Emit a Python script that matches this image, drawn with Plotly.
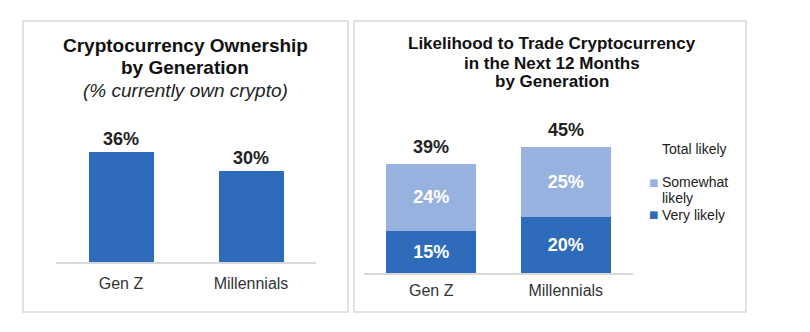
import plotly.graph_objects as go

# ---- data ----
generations = ["Gen Z", "Millennials"]
own_crypto = [36, 30]
very_likely = [15, 20]
somewhat_likely = [24, 25]
total_likely = [39, 45]

DARK = "#2E6BBA"
LIGHT = "#97B2DE"
GRID = "#D9D9D9"
FONT = "Arial, Liberation Sans, sans-serif"

W, H = 810, 332
def px(x):
    return x / W
def py(y):
    return 1 - y / H

fig = go.Figure()

# Left chart
fig.add_trace(go.Bar(
    x=generations, y=own_crypto, xaxis="x", yaxis="y",
    marker=dict(color=DARK, line=dict(width=0)), width=0.5,
    texttemplate="<b>%{y}%</b>", textposition="outside",
    textfont=dict(family=FONT, size=18, color="#222222"),
    cliponaxis=False, showlegend=False, hoverinfo="skip"))

# Right chart (stacked)
fig.add_trace(go.Bar(
    x=generations, y=very_likely, xaxis="x2", yaxis="y2", name="Very likely",
    marker=dict(color=DARK, line=dict(width=0)), width=0.67,
    texttemplate="<b>%{y}%</b>", textposition="inside",
    insidetextanchor="middle",
    textfont=dict(family=FONT, size=18, color="white"),
    showlegend=False, hoverinfo="skip"))
fig.add_trace(go.Bar(
    x=generations, y=somewhat_likely, xaxis="x2", yaxis="y2", name="Somewhat likely",
    marker=dict(color=LIGHT, line=dict(width=0)), width=0.67,
    texttemplate="<b>%{y}%</b>", textposition="inside",
    insidetextanchor="middle",
    textfont=dict(family=FONT, size=18, color="white"),
    showlegend=False, hoverinfo="skip"))

axis_common = dict(showgrid=False, zeroline=False, ticks="",
                   tickfont=dict(family=FONT, size=16, color="#333333"),
                   fixedrange=True)

fig.update_layout(
    width=W, height=H, margin=dict(l=0, r=0, t=0, b=0),
    paper_bgcolor="white", plot_bgcolor="white",
    barmode="stack",
    font=dict(family=FONT),
    xaxis=dict(domain=[px(56), px(316)], anchor="y", showline=True,
               linecolor=GRID, linewidth=1.5, ticklabelstandoff=6, **axis_common),
    yaxis=dict(domain=[py(262), py(100)], anchor="x", range=[0, 162 / 3.05],
               visible=False, **axis_common),
    xaxis2=dict(domain=[px(364), px(633)], anchor="y2", showline=True,
                linecolor=GRID, linewidth=1.5, ticklabelstandoff=2, **axis_common),
    yaxis2=dict(domain=[py(273), py(110)], anchor="x2", range=[0, 163 / 2.8],
                visible=False, **axis_common),
    showlegend=False,
)

shapes = [
    dict(type="rect", xref="paper", yref="paper", x0=px(23), x1=px(348),
         y0=py(312), y1=py(21), line=dict(color=GRID, width=1.5)),
    dict(type="rect", xref="paper", yref="paper", x0=px(354), x1=px(746),
         y0=py(312), y1=py(21), line=dict(color=GRID, width=1.5)),
]
fig.update_layout(shapes=shapes)

ann = []
# Left titles
ann.append(dict(text="<b>Cryptocurrency Ownership</b>", x=px(185), y=py(45),
                font=dict(size=19, color="#111111")))
ann.append(dict(text="<b>by Generation</b>", x=px(185), y=py(67),
                font=dict(size=19, color="#111111")))
ann.append(dict(text="<i>(% currently own crypto)</i>", x=px(185), y=py(90),
                font=dict(size=19, color="#222222")))
# Right titles
ann.append(dict(text="<b>Likelihood to Trade Cryptocurrency</b>", x=px(552), y=py(43),
                font=dict(size=17, color="#111111")))
ann.append(dict(text="<b>in the Next 12 Months</b>", x=px(552), y=py(63),
                font=dict(size=17, color="#111111")))
ann.append(dict(text="<b>by Generation</b>", x=px(552), y=py(82),
                font=dict(size=17, color="#111111")))
for a in ann:
    a.update(xref="paper", yref="paper", showarrow=False,
             xanchor="center", yanchor="middle")
    a["font"]["family"] = FONT

# Totals above stacked bars
for g, t in zip(generations, total_likely):
    ann.append(dict(text=f"<b>{t}%</b>", x=g, y=t, xref="x2", yref="y2",
                    showarrow=False, xanchor="center", yanchor="middle",
                    yshift=17, font=dict(family=FONT, size=18, color="#222222")))

# Legend
leg = [
    dict(text="Total likely", x=px(660), y=py(149)),
    dict(text="Somewhat", x=px(660), y=py(182)),
    dict(text="likely", x=px(660), y=py(198)),
    dict(text="Very likely", x=px(660), y=py(215)),
]
for a in leg:
    a.update(xref="paper", yref="paper", showarrow=False, xanchor="left",
             yanchor="middle", font=dict(family=FONT, size=14, color="#222222"))
    ann.append(a)
for col, yy in [(LIGHT, 182), (DARK, 215)]:
    ann.append(dict(text="■", x=px(660), y=py(yy), xref="paper", yref="paper",
                    showarrow=False, xanchor="right", yanchor="middle",
                    font=dict(family="DejaVu Sans", size=10, color=col)))

fig.update_layout(annotations=ann)

fig.write_html("out.html")
